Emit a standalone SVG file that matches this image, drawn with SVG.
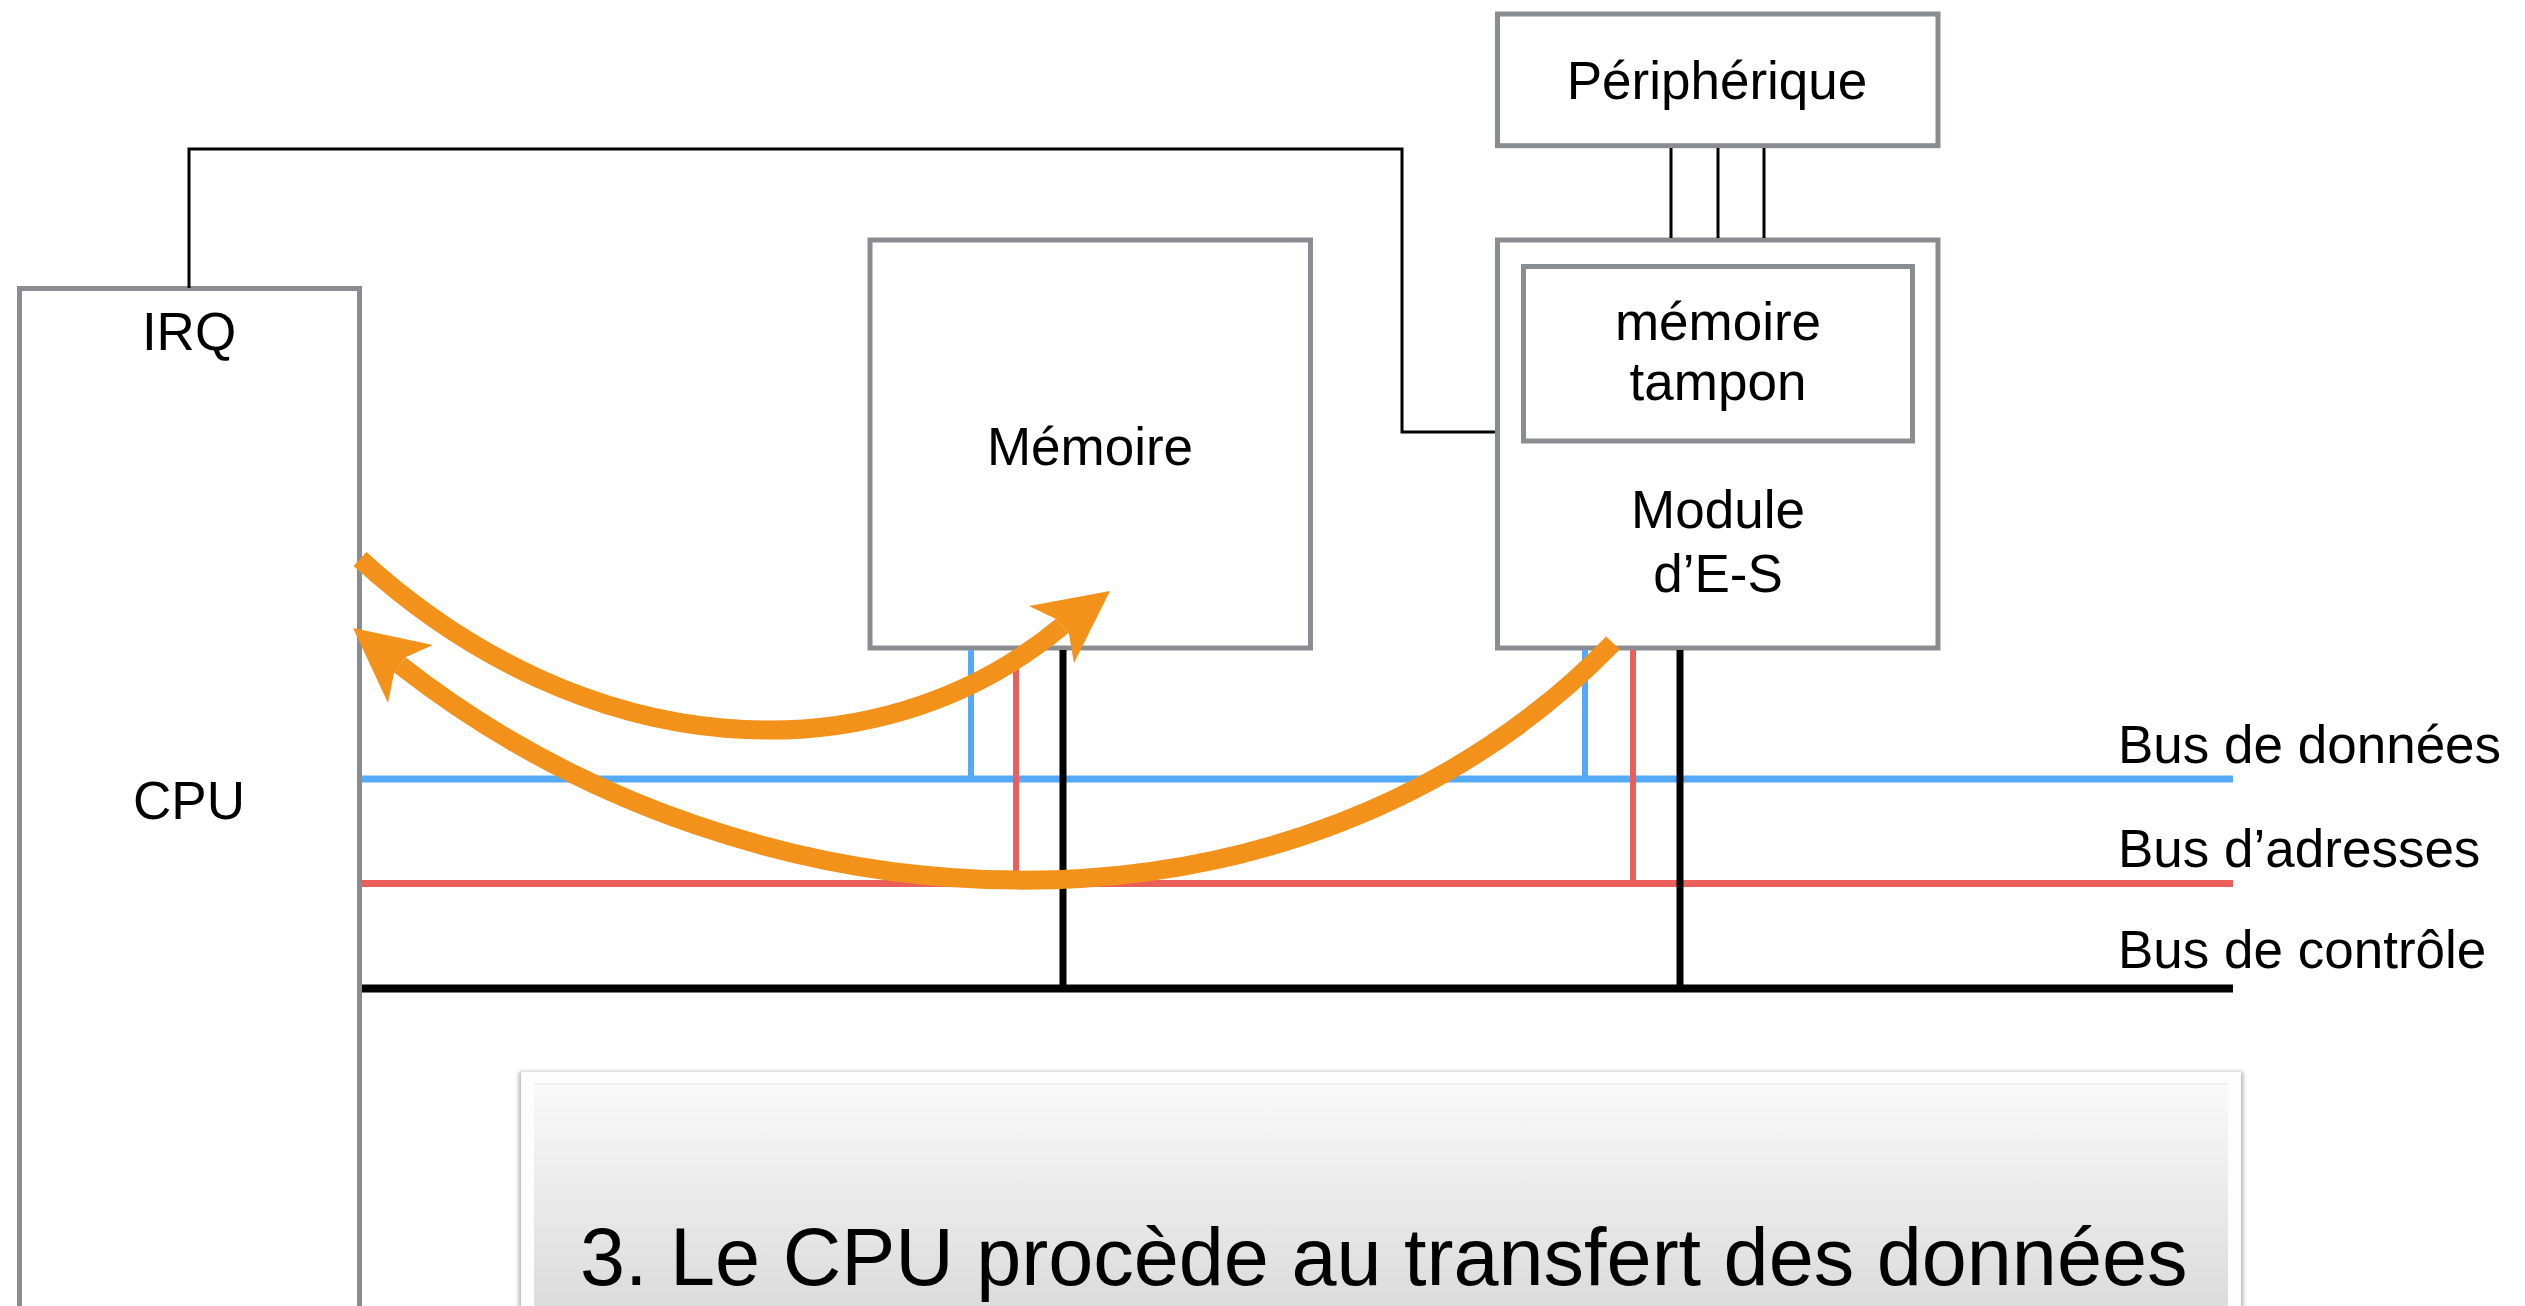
<svg xmlns="http://www.w3.org/2000/svg" width="2525" height="1306" viewBox="0 0 2525 1306">
<defs>
<style>
.box{fill:#fff;stroke:#898c90;stroke-width:5}
.t{font-family:"Liberation Sans",Arial,sans-serif;font-size:53px;fill:#000}
.c{text-anchor:middle}
.thin{fill:none;stroke:#000;stroke-width:3}
.arrow{fill:none;stroke:#f2921b;stroke-width:19;stroke-linecap:butt}
.head{fill:#f2921b}
</style>
<linearGradient id="panel" x1="0" y1="0" x2="0" y2="1">
<stop offset="0" stop-color="#f9f9f9"/>
<stop offset="1" stop-color="#d9d9d9"/>
</linearGradient>
<filter id="sh" x="-5%" y="-20%" width="110%" height="140%">
<feGaussianBlur stdDeviation="2"/>
</filter>
</defs>
<rect width="2525" height="1306" fill="#fff"/>

<g id="cpu">
<rect class="box" x="19.5" y="288.5" width="340" height="1100"/>
<text class="t c" x="189" y="350">IRQ</text>
<text class="t c" x="189" y="819">CPU</text>
</g>

<g id="memoire">
<rect class="box" x="870" y="240" width="440.5" height="408"/>
<text class="t c" x="1090" y="465">Mémoire</text>
</g>

<g id="peripherique">
<rect class="box" x="1497.5" y="14" width="440.5" height="131.7"/>
<text class="t c" x="1717" y="99">Périphérique</text>
</g>

<g id="module">
<rect class="box" x="1497.5" y="240" width="440.5" height="408"/>
<rect class="box" x="1523.5" y="266.5" width="389" height="174.5"/>
<text class="t c" x="1718" y="340">mémoire</text>
<text class="t c" x="1718" y="400">tampon</text>
<text class="t c" x="1718" y="528">Module</text>
<text class="t c" x="1718" y="592">d’E-S</text>
</g>

<g id="bus-labels">
<text class="t" x="2118" y="763">Bus de données</text>
<text class="t" x="2118" y="867">Bus d’adresses</text>
<text class="t" x="2118" y="968">Bus de contrôle</text>
</g>

<g id="connectors">
<path class="thin" d="M189 288 V149 H1402 V432 H1495"/>
<path class="thin" d="M1671 148 V238 M1718 148 V238 M1764 148 V238"/>
<line x1="362" y1="779" x2="2233" y2="779" stroke="#55a9f9" stroke-width="7"/>
<line x1="362" y1="883.5" x2="2233" y2="883.5" stroke="#eb5f5a" stroke-width="7"/>
<line x1="362" y1="988.5" x2="2233" y2="988.5" stroke="#000" stroke-width="8"/>
<line x1="971" y1="650" x2="971" y2="782" stroke="#55a9f9" stroke-width="6"/>
<line x1="1585" y1="650" x2="1585" y2="782" stroke="#55a9f9" stroke-width="6"/>
<line x1="1016" y1="650" x2="1016" y2="887" stroke="#eb5f5a" stroke-width="6"/>
<line x1="1633" y1="650" x2="1633" y2="887" stroke="#eb5f5a" stroke-width="6"/>
<line x1="1063" y1="650" x2="1063" y2="992" stroke="#000" stroke-width="7"/>
<line x1="1680" y1="650" x2="1680" y2="992" stroke="#000" stroke-width="7"/>
</g>

<g id="transfer-arrows">
<path class="arrow" d="M360 559 C585 765 875 782 1062 626"/>
<polygon class="head" points="1110,591 1029,606 1056,619 1069,634 1074,663"/>
<path class="arrow" d="M1613 643 C1298 967 755.5 944 400 665"/>
<polygon class="head" points="353,628 433,645 406,657 394,673 388,703"/>
</g>

<g id="caption">
<rect x="519" y="1072" width="1724" height="260" fill="#b0b0b0" filter="url(#sh)"/>
<rect x="521" y="1072" width="1720" height="260" fill="#fdfdfd"/>
<rect x="534" y="1086" width="1694" height="240" fill="url(#panel)"/>
<line x1="534" y1="1084" x2="2228" y2="1084" stroke="#f0f0f0" stroke-width="2"/>
<text x="580" y="1285" font-family="'Liberation Sans',Arial,sans-serif" font-size="81" fill="#000">3. Le CPU procède au transfert des données</text>
</g>
</svg>
